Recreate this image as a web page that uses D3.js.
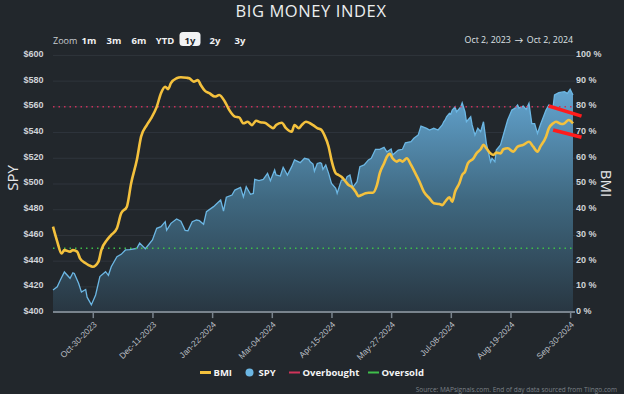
<!DOCTYPE html>
<html><head><meta charset="utf-8">
<script src="https://cdn.jsdelivr.net/npm/d3@7"></script>
<style>
html,body{margin:0;padding:0;background:#22272c;}
svg{display:block;font-family:"Open Sans","Lato",sans-serif;}
</style></head>
<body><svg id="c" width="624" height="394"></svg>
<script>
const spySeries = [
["2023-10-02",417.6],["2023-10-05",420],["2023-10-07",425],["2023-10-10",431.6],["2023-10-14",426.7],["2023-10-16",431],["2023-10-17",430.5],["2023-10-20",422.8],["2023-10-22",416],["2023-10-25",418],["2023-10-26",412],["2023-10-29",406],["2023-11-01",413.7],["2023-11-04",428],["2023-11-08",431.8],["2023-11-10",429],["2023-11-12",435.7],["2023-11-16",443.5],["2023-11-19",445.3],["2023-11-22",448.7],["2023-11-25",449],["2023-11-30",450],["2023-12-02",454],["2023-12-06",449.7],["2023-12-11",456.5],["2023-12-14",465.5],["2023-12-17",466.8],["2023-12-20",470.7],["2023-12-21",464],["2023-12-24",469.4],["2023-12-28",472.8],["2023-12-31",471],["2024-01-03",464],["2024-01-05",463.7],["2024-01-08",470.7],["2024-01-11",472],["2024-01-13",471.5],["2024-01-16",468.7],["2024-01-18",478.5],["2024-01-23",482.4],["2024-01-25",484.5],["2024-01-28",487.6],["2024-01-30",479],["2024-02-01",489.7],["2024-02-05",491.4],["2024-02-07",495.3],["2024-02-11",497.4],["2024-02-13",490],["2024-02-15",497.9],["2024-02-18",492],["2024-02-20",492.7],["2024-02-21",503.6],["2024-02-24",502.6],["2024-02-27",503.6],["2024-03-01",508.3],["2024-03-03",502.6],["2024-03-06",510.9],["2024-03-07",507],["2024-03-10",506.2],["2024-03-12",513],["2024-03-15",507],["2024-03-18",513.5],["2024-03-20",518.7],["2024-03-24",516.6],["2024-03-27",520],["2024-03-30",519.2],["2024-03-31",517.3],["2024-04-02",515.5],["2024-04-03",510],["2024-04-05",516],["2024-04-07",516.6],["2024-04-08",516],["2024-04-09",511.4],["2024-04-11",514.8],["2024-04-13",508.3],["2024-04-15",500.5],["2024-04-18",496.7],["2024-04-19",492.8],["2024-04-22",503],["2024-04-25",503],["2024-04-26",505.7],["2024-04-28",507],["2024-04-30",497.4],["2024-05-03",501.8],["2024-05-05",513.5],["2024-05-08",514.8],["2024-05-11",518.7],["2024-05-13",520],["2024-05-16",527],["2024-05-19",527],["2024-05-22",528.5],["2024-05-24",525],["2024-05-27",527.2],["2024-05-28",522.5],["2024-06-01",526.4],["2024-06-04",527],["2024-06-06",532],["2024-06-10",532.9],["2024-06-12",535.5],["2024-06-15",538],["2024-06-17",545],["2024-06-21",543.3],["2024-06-23",542],["2024-06-26",543.3],["2024-06-29",542],["2024-07-02",545.9],["2024-07-03",548.4],["2024-07-04",549.8],["2024-07-05",552.3],["2024-07-07",555],["2024-07-08",554.4],["2024-07-09",557.5],["2024-07-11",560],["2024-07-12",556],["2024-07-15",560],["2024-07-16",563.2],["2024-07-18",556],["2024-07-19",548.4],["2024-07-22",552.3],["2024-07-23",545.9],["2024-07-25",538],["2024-07-27",543.3],["2024-07-29",540.7],["2024-07-31",548.4],["2024-08-02",531.6],["2024-08-05",517.3],["2024-08-06",520],["2024-08-08",517.3],["2024-08-09",526.4],["2024-08-12",530.3],["2024-08-15",542],["2024-08-17",549.8],["2024-08-20",557.5],["2024-08-22",558.8],["2024-08-24",561.4],["2024-08-25",559],["2024-08-28",560.6],["2024-08-30",558],["2024-09-01",562.7],["2024-09-03",547],["2024-09-05",547],["2024-09-07",539.4],["2024-09-09",545.9],["2024-09-13",557.5],["2024-09-15",561.4],["2024-09-18",560],["2024-09-19",569.2],["2024-09-22",571],["2024-09-26",571.8],["2024-09-28",570.5],["2024-09-30",573.6],["2024-10-02",569.2]
];
const bmiSeries = [
["2023-10-02",33.4],["2023-10-05",27.6],["2023-10-08",23],["2023-10-10",24.3],["2023-10-14",23.7],["2023-10-16",24.3],["2023-10-19",23.7],["2023-10-21",21.1],["2023-10-25",19.2],["2023-10-27",18.5],["2023-10-30",17.8],["2023-11-03",19.8],["2023-11-05",24.3],["2023-11-09",28.2],["2023-11-12",30.2],["2023-11-16",32.8],["2023-11-19",38.6],["2023-11-23",41.2],["2023-11-26",50.3],["2023-11-30",59.3],["2023-12-03",68.4],["2023-12-07",72.9],["2023-12-10",75.5],["2023-12-14",80],["2023-12-17",85.3],["2023-12-20",87.8],["2023-12-22",86.9],["2023-12-24",89.2],["2023-12-28",91.1],["2023-12-31",91.5],["2024-01-04",91.3],["2024-01-06",91.1],["2024-01-09",89.8],["2024-01-12",90.4],["2024-01-14",88.5],["2024-01-17",86.2],["2024-01-20",85.3],["2024-01-24",84],["2024-01-27",84.6],["2024-01-31",82],["2024-02-03",78.8],["2024-02-07",76.2],["2024-02-10",75.9],["2024-02-13",73.6],["2024-02-16",74.2],["2024-02-19",72.9],["2024-02-22",74.6],["2024-02-25",74],["2024-02-28",73.8],["2024-03-03",72.3],["2024-03-05",71.7],["2024-03-07",72.9],["2024-03-11",73.8],["2024-03-14",71.7],["2024-03-18",70.3],["2024-03-20",72.9],["2024-03-23",71.7],["2024-03-25",72.9],["2024-03-28",74.2],["2024-04-02",72.9],["2024-04-05",71.7],["2024-04-08",71],["2024-04-10",69],["2024-04-13",64.5],["2024-04-15",59.3],["2024-04-18",54.2],["2024-04-20",53.5],["2024-04-22",52.8],["2024-04-25",50.9],["2024-04-27",49.6],["2024-04-29",49],["2024-05-02",47],["2024-05-04",45.3],["2024-05-06",45.7],["2024-05-09",46.4],["2024-05-11",46.6],["2024-05-14",46.6],["2024-05-17",49.6],["2024-05-19",54.2],["2024-05-22",58],["2024-05-24",60.6],["2024-05-26",61.7],["2024-05-28",60],["2024-05-31",58.7],["2024-06-02",59.3],["2024-06-04",58.7],["2024-06-07",60],["2024-06-10",57.4],["2024-06-13",54.2],["2024-06-16",50.9],["2024-06-19",47],["2024-06-23",44.4],["2024-06-26",42.5],["2024-06-30",42.2],["2024-07-02",41.8],["2024-07-04",43.1],["2024-07-07",44.8],["2024-07-09",43.1],["2024-07-11",47],["2024-07-14",50.3],["2024-07-16",53.5],["2024-07-18",54.8],["2024-07-20",58],["2024-07-24",60],["2024-07-26",61.9],["2024-07-29",63.5],["2024-07-31",65.2],["2024-08-02",63.9],["2024-08-05",61.9],["2024-08-07",61.3],["2024-08-09",62.2],["2024-08-12",61.9],["2024-08-14",63.5],["2024-08-17",63.9],["2024-08-21",62.6],["2024-08-24",64.5],["2024-08-28",65.2],["2024-09-01",66.4],["2024-09-04",64.5],["2024-09-07",62.6],["2024-09-09",64.5],["2024-09-13",68.4],["2024-09-15",71.7],["2024-09-18",73.6],["2024-09-20",74.2],["2024-09-24",73.3],["2024-09-26",73.6],["2024-09-29",74.9],["2024-10-02",73.6]
];
const xTickDates = ["2023-10-30","2023-12-11","2024-01-22","2024-03-04","2024-04-15","2024-05-27","2024-07-08","2024-08-19","2024-09-30"];
const spyTicks = [400,420,440,460,480,500,520,540,560,580,600];
const bmiTicks = [0,10,20,30,40,50,60,70,80,90,100];
const overbought = 80;
const oversold = 25;
const zoomButtons = ["1m","3m","6m","YTD","1y","2y","3y"];
const selectedButton = "1y";
const dateRange = ["Oct 2, 2023","Oct 2, 2024"];
const annotationLines = [
  [["2024-09-15",80.3],["2024-10-08",76.4]],
  [["2024-09-18",71],["2024-10-08",68.2]]
];
const legendItems = [
  {name:"BMI", type:"line", color:"#f4c13d"},
  {name:"SPY", type:"dot", color:"#6cb7e4"},
  {name:"Overbought", type:"line", color:"#d0345a"},
  {name:"Oversold", type:"line", color:"#3fbf4a"}
];

const parse = d3.timeParse("%Y-%m-%d");
const svg = d3.select("#c");
const L = 53, R = 573, T = 55.4, B = 312.6;

const x = d3.scaleTime().domain([parse("2023-10-02"), parse("2024-10-02")]).range([L, R]);
const ySpy = d3.scaleLinear().domain([400,600]).range([B,T]);
const yBmi = d3.scaleLinear().domain([0,100]).range([B,T]);

// defs
const defs = svg.append("defs");
const grad = defs.append("linearGradient").attr("id","ag").attr("gradientUnits","userSpaceOnUse")
  .attr("x1",0).attr("x2",0).attr("y1",ySpy(575)).attr("y2",B);
grad.append("stop").attr("offset",0).attr("stop-color","#64a6d2");
grad.append("stop").attr("offset",0.5).attr("stop-color","#3f6880");
grad.append("stop").attr("offset",1).attr("stop-color","#283641");

// grid
svg.append("g").selectAll("line").data(bmiTicks).join("line")
  .attr("x1",L).attr("x2",R+2).attr("y1",d=>yBmi(d)).attr("y2",d=>yBmi(d))
  .attr("stroke","#2f353c").attr("stroke-width",1);

// area SPY
const spy = spySeries.map(d=>({date:parse(d[0]), v:d[1]}));
const bmi = bmiSeries.map(d=>({date:parse(d[0]), v:d[1]}));
svg.append("path").datum(spy)
  .attr("d", d3.area().x(d=>x(d.date)).y0(B).y1(d=>ySpy(d.v)))
  .attr("fill","url(#ag)");
svg.append("path").datum(spy)
  .attr("d", d3.line().x(d=>x(d.date)).y(d=>ySpy(d.v)))
  .attr("fill","none").attr("stroke","#6cb7e4").attr("stroke-width",1.3);

// threshold lines
svg.append("line").attr("x1",L).attr("x2",R).attr("y1",yBmi(overbought)).attr("y2",yBmi(overbought))
  .attr("stroke","#c8325a").attr("stroke-width",1.5).attr("stroke-dasharray","1.5,4");
svg.append("line").attr("x1",L).attr("x2",R).attr("y1",yBmi(oversold)).attr("y2",yBmi(oversold))
  .attr("stroke","#3fbf4a").attr("stroke-width",1.5).attr("stroke-dasharray","1.5,4");

// BMI line
svg.append("path").datum(bmi)
  .attr("d", d3.line().x(d=>x(d.date)).y(d=>yBmi(d.v)).curve(d3.curveMonotoneX))
  .attr("fill","none").attr("stroke","#f4c13d").attr("stroke-width",2.6).attr("stroke-linejoin","round");

// annotations
svg.append("g").selectAll("path").data(annotationLines).join("path")
  .attr("d", d3.line().x(d=>x(parse(d[0]))).y(d=>yBmi(d[1])))
  .attr("stroke","#ff1c1c").attr("stroke-width",3.6).attr("stroke-linecap","butt").attr("fill","none");

// axes
const axL = svg.append("g").attr("transform",`translate(${L},0)`)
  .call(d3.axisLeft(ySpy).tickValues(spyTicks).tickSize(0).tickPadding(9.5).tickFormat(d=>"$"+d));
axL.select(".domain").remove();
axL.selectAll("text").attr("dy","0.1em").attr("fill","#d0d4d8").style("font-size","9px").style("font-weight","600");

const axR = svg.append("g").attr("transform",`translate(${R+2},0)`)
  .call(d3.axisRight(yBmi).tickValues(bmiTicks).tickSize(0).tickPadding(1).tickFormat(d=>d+" %"));
axR.select(".domain").remove();
axR.selectAll("text").attr("dy","0.1em").attr("fill","#d0d4d8").style("font-size","9px").style("font-weight","600");

const axB = svg.append("g").attr("transform",`translate(0,${B-0.5})`)
  .call(d3.axisBottom(x).tickValues(xTickDates.map(parse)).tickSize(6).tickFormat(d3.timeFormat("%b-%d-%Y")));
axB.select(".domain").attr("stroke","#79838d").attr("stroke-width",2).attr("d",`M${L},0H${R+2}`);
axB.selectAll(".tick line").attr("stroke","#79838d").attr("stroke-width",1.5);
axB.selectAll("text").attr("y",0).attr("dy",0).attr("text-anchor","end")
  .attr("transform","translate(4,13) rotate(-45)")
  .attr("fill","#b9bec4").style("font-size","8.5px");

// axis titles
svg.append("text").attr("transform","translate(18,178) rotate(-90)").attr("text-anchor","middle")
  .attr("fill","#e6e8ea").style("font-size","15px").text("SPY");
svg.append("text").attr("transform","translate(601,183.5) rotate(90)").attr("text-anchor","middle")
  .attr("fill","#e6e8ea").style("font-size","15px").text("BMI");

// title
svg.append("text").attr("x",311).attr("y",17).attr("text-anchor","middle")
  .attr("fill","#eceeef").style("font-size","16.5px").style("letter-spacing","0.6px").text("BIG MONEY INDEX");

// zoom buttons
svg.append("text").attr("x",53).attr("y",43.5).attr("fill","#c9cdd1").style("font-size","9px").text("Zoom");
const bx0 = 89, bstep = 25;
zoomButtons.forEach((b,i)=>{
  const cx = bx0 + i*bstep + (i>=3 ? 1 : 0);
  if (b===selectedButton){
    svg.append("rect").attr("x",cx-10.5).attr("y",32).attr("width",21).attr("height",14).attr("rx",3.5).attr("fill","#f2f3f4");
  }
  svg.append("text").attr("x",cx).attr("y",43.5).attr("text-anchor","middle")
    .attr("fill", b===selectedButton ? "#22272c" : "#f0f1f2")
    .style("font-size","9.5px").style("font-weight","700").text(b);
});

// date range (measured layout)
const dr = svg.append("g").attr("fill","#dfe2e5").style("font-size","8.8px");
const t2 = dr.append("text").attr("x",R).attr("y",43).attr("text-anchor","end").text(dateRange[1]);
const w2 = t2.node().getComputedTextLength();
const arrowX = R - w2 - 8;
dr.append("text").attr("x",arrowX).attr("y",43).attr("text-anchor","middle").text("\u2192");
dr.append("text").attr("x",arrowX - 8).attr("y",43).attr("text-anchor","end").text(dateRange[0]);

// legend
const legX = [200, 245, 289, 368];
legendItems.forEach((it,i)=>{
  const g = svg.append("g").attr("transform",`translate(${legX[i]},372.5)`);
  if (it.type==="line") g.append("line").attr("x1",0).attr("x2",11).attr("y1",0).attr("y2",0)
      .attr("stroke",it.color).attr("stroke-width", it.name==="BMI"?3:2);
  else g.append("circle").attr("cx",4.5).attr("cy",0).attr("r",4).attr("fill",it.color);
  g.append("text").attr("x",13.5).attr("y",3.5).attr("fill","#f3f4f5").style("font-size","9.5px").style("font-weight","700").text(it.name);
});

svg.append("text").attr("x",617).attr("y",392).attr("text-anchor","end").attr("fill","#7b8187")
  .style("font-size","6.5px").text("Source: MAPsignals.com. End of day data sourced from Tiingo.com");
</script></body></html>
